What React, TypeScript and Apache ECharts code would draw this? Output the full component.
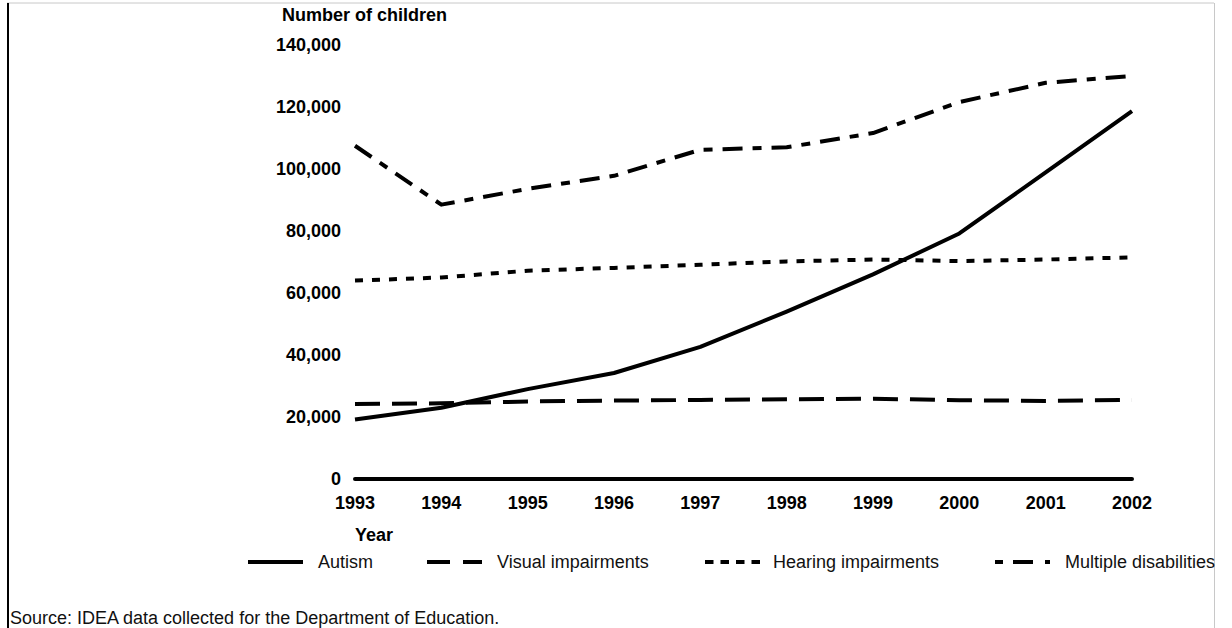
import React, { useEffect, useRef } from "react";
import * as echarts from "echarts";

const years = ["1993", "1994", "1995", "1996", "1997", "1998", "1999", "2000", "2001", "2002"];
const autism = [19200, 23000, 29000, 34200, 42600, 54000, 66000, 79200, 98900, 118700];
const visual = [24200, 24400, 25000, 25300, 25500, 25700, 25900, 25400, 25200, 25500];
const hearing = [64000, 65000, 67200, 68100, 69100, 70200, 70800, 70300, 70800, 71500];
const multiple = [107500, 88500, 93600, 97800, 106200, 107000, 111600, 121600, 127800, 130000];
const seriesNames = ["Autism", "Visual impairments", "Hearing impairments", "Multiple disabilities"];

const FONT = "'Liberation Sans', Arial, Helvetica, sans-serif";

export default function App() {
  const ref = useRef<HTMLDivElement>(null);
  useEffect(() => {
    if (!ref.current) return;
    const chart = echarts.init(ref.current, null, { renderer: "svg" });
    const dashes: any[] = ["solid", [25, 12], [8, 9], [20, 10, 9, 10]];
    const data = [autism, visual, hearing, multiple];
    const legendX = [248, 427, 705, 995];
    const legendTextX = [318, 497, 773, 1065];
    const legendDash: any[] = [null, [23, 13], [8.5, 7], [8, 10, 20, 12]];
    const legendGraphics: any[] = [];
    seriesNames.forEach((n, i) => {
      legendGraphics.push({
        type: "line",
        shape: { x1: legendX[i], y1: 562, x2: legendX[i] + 55, y2: 562 },
        style: { stroke: "#000", lineWidth: 4, lineDash: legendDash[i] || undefined, lineCap: "butt" },
      });
      legendGraphics.push({
        type: "text",
        x: legendTextX[i],
        y: 562,
        style: { text: n, font: `18px ${FONT}`, fill: "#111", textVerticalAlign: "middle", textAlign: "left" },
      });
    });
    chart.setOption({
      animation: false,
      backgroundColor: "#fff",
      grid: { left: 355, right: 100, top: 45, bottom: 149, containLabel: false },
      xAxis: {
        type: "category",
        data: years,
        boundaryGap: false,
        axisLine: { show: true, lineStyle: { color: "#000", width: 4 } },
        axisTick: { show: false },
        axisLabel: { color: "#000", fontFamily: FONT, fontWeight: "bold", fontSize: 18, margin: 15 },
        splitLine: { show: false },
      },
      yAxis: {
        type: "value",
        min: 0,
        max: 140000,
        interval: 20000,
        axisLine: { show: false },
        axisTick: { show: false },
        splitLine: { show: false },
        axisLabel: {
          color: "#000",
          fontFamily: FONT,
          fontWeight: "bold",
          fontSize: 18,
          margin: 14,
          formatter: (v: number) => v.toLocaleString("en-US"),
        },
      },
      series: seriesNames.map((n, i) => ({
        name: n,
        type: "line",
        data: data[i],
        symbol: "none",
        lineStyle: { color: "#000", width: 4, type: dashes[i], cap: "butt", join: "round" },
        z: 3,
      })),
      graphic: [
        { type: "line", shape: { x1: 7, y1: 3, x2: 1214, y2: 3 }, style: { stroke: "#c8c8c8", lineWidth: 1 } },
        { type: "line", shape: { x1: 8, y1: 3, x2: 8, y2: 628 }, style: { stroke: "#000", lineWidth: 2 } },
        { type: "line", shape: { x1: 1214.5, y1: 3, x2: 1214.5, y2: 628 }, style: { stroke: "#c8c8c8", lineWidth: 1 } },
        {
          type: "text",
          x: 282,
          y: 15,
          style: { text: "Number of children", font: `bold 18px ${FONT}`, fill: "#000", textVerticalAlign: "middle" },
        },
        {
          type: "text",
          x: 355,
          y: 535,
          style: { text: "Year", font: `bold 18px ${FONT}`, fill: "#000", textVerticalAlign: "middle" },
        },
        ...legendGraphics,
        {
          type: "text",
          x: 10,
          y: 618,
          style: {
            text: "Source: IDEA data collected for the Department of Education.",
            font: `18px ${FONT}`,
            fill: "#111",
            textVerticalAlign: "middle",
          },
        },
      ],
    });
    return () => chart.dispose();
  }, []);
  return <div ref={ref} style={{ position: "fixed", left: 0, top: 0, width: 1232, height: 628 }} />;
}
